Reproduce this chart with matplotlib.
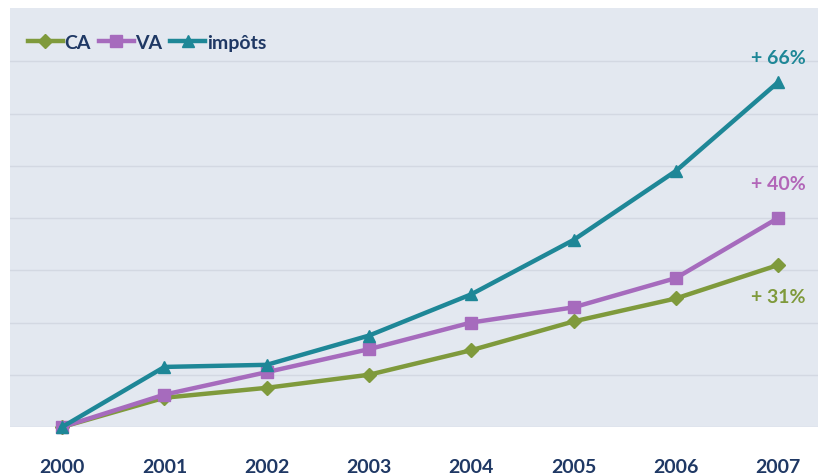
import matplotlib
matplotlib.use("Agg")
import matplotlib.pyplot as plt

years = ["2000", "2001", "2002", "2003", "2004", "2005", "2006", "2007"]
ca = [100, 105.6, 107.5, 110.0, 114.7, 120.2, 124.6, 131.0]
va = [100, 106.2, 110.5, 114.9, 120.0, 122.9, 128.5, 140.0]
impots = [100, 111.5, 111.9, 117.5, 125.4, 135.8, 149.0, 166.0]
series_names = ["CA", "VA", "impôts"]
end_labels = ["+ 31%", "+ 40%", "+ 66%"]

c_ca = "#7f9a3c"
c_va = "#a66bbd"
c_imp = "#1e8797"
c_lbl = ["#7f9a3c", "#b266b8", "#1e8797"]
navy = "#1f3864"

plt.rcParams['font.family'] = ['Lato', 'DejaVu Sans']

fig = plt.figure(figsize=(8.18, 4.77), dpi=100)
ax = fig.add_axes([10/818, 49/477, 808/818, 419/477])
ax.set_facecolor("#e3e8f0")

x = list(range(len(years)))
ax.plot(x, ca, color=c_ca, lw=3.2, marker="D", ms=7, label=series_names[0], zorder=3, clip_on=False)
ax.plot(x, va, color=c_va, lw=3.2, marker="s", ms=8.5, label=series_names[1], zorder=3, clip_on=False)
ax.plot(x, impots, color=c_imp, lw=3.2, marker="^", ms=9, label=series_names[2], zorder=3, clip_on=False)

ax.set_xlim(-0.51, 7.39)
ax.set_ylim(100, 180.2)
ax.set_yticks([100, 110, 120, 130, 140, 150, 160, 170])
ax.yaxis.grid(True, color="#d3d8e2", lw=1)
ax.set_yticklabels([])
ax.tick_params(left=False, bottom=False)
ax.set_xticks(x)
ax.set_xticklabels(years, fontsize=14, fontweight="bold", color=navy)
ax.tick_params(axis="x", pad=22, length=0)
for s in ax.spines.values():
    s.set_visible(False)

offsets = [(0, -23), (0, 25), (0, 18)]
finals = [ca[-1], va[-1], impots[-1]]
for lbl, val, col, off in zip(end_labels, finals, c_lbl, offsets):
    ax.annotate(lbl, (x[-1], val), xytext=off, textcoords="offset points",
                ha="center", va="center", fontsize=14, fontweight="bold", color=col)

leg = ax.legend(loc="upper left", bbox_to_anchor=(0.0, 0.98), ncol=3, frameon=False,
                handlelength=1.8, handletextpad=0.1, columnspacing=0.4,
                prop={"weight": "bold", "size": 14})
for t in leg.get_texts():
    t.set_color(navy)

fig.savefig("out.png", dpi=100, facecolor="white")
